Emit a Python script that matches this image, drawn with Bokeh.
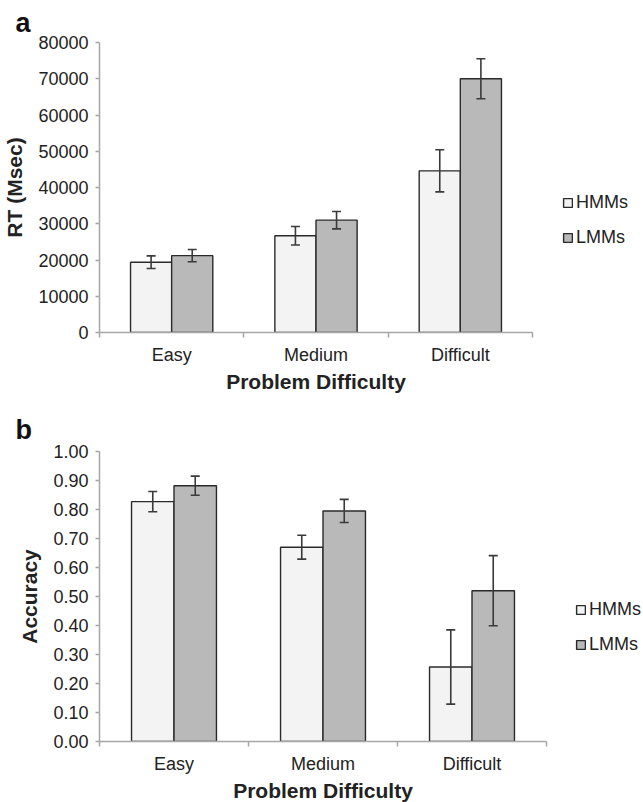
from bokeh.plotting import figure
from bokeh.models import (ColumnDataSource, Range1d, FixedTicker, NumeralTickFormatter,
                          Whisker, TeeHead, Legend, LegendItem)
from bokeh.layouts import column
from bokeh.embed import file_html
from bokeh.resources import INLINE

# ---------------- data ----------------
categories = ["Easy", "Medium", "Difficult"]
series = ["HMMs", "LMMs"]

rt_hmm = [19400, 26700, 44600]
rt_hmm_err = [1750, 2550, 5800]
rt_lmm = [21200, 31000, 70000]
rt_lmm_err = [1700, 2400, 5500]

acc_hmm = [0.827, 0.670, 0.257]
acc_hmm_err = [0.035, 0.041, 0.128]
acc_lmm = [0.882, 0.795, 0.520]
acc_lmm_err = [0.033, 0.040, 0.121]

rt_ticks = [0, 10000, 20000, 30000, 40000, 50000, 60000, 70000, 80000]
acc_ticks = [0.0, 0.1, 0.2, 0.3, 0.4, 0.5, 0.6, 0.7, 0.8, 0.9, 1.0]

# ---------------- style ----------------
FONT = "Liberation Sans"
TXT = "#222222"
AXC = "#a6a6a6"
FILLS = ["#f3f3f3", "#b9b9b9"]
BAR_W = 0.285


def make_panel(letter, ylabel, hmm, hmm_err, lmm, lmm_err, ticks, fmt,
               frame_w, b_top, b_bottom, b_right, leg_loc, title_standoff):
    p = figure(output_backend="svg", toolbar_location=None,
               frame_width=frame_w, frame_height=290,
               min_border_left=99, min_border_right=b_right,
               min_border_top=b_top, min_border_bottom=b_bottom,
               x_range=Range1d(0, len(categories)),
               y_range=Range1d(ticks[0], ticks[-1]))
    p.outline_line_color = None
    p.grid.grid_line_color = None
    p.background_fill_color = "white"

    p.title.text = letter
    p.title.align = "left"
    p.title.offset = -84
    p.title.standoff = title_standoff
    p.title.text_font = FONT
    p.title.text_font_size = "27px"
    p.title.text_font_style = "bold"
    p.title.text_color = "#111111"

    centers = [i + 0.5 for i in range(len(categories))]
    renderers = []
    for k, (vals, errs) in enumerate([(hmm, hmm_err), (lmm, lmm_err)]):
        xs = [c + (k - 0.5) * BAR_W for c in centers]
        src = ColumnDataSource(dict(
            x=xs, top=vals,
            upper=[v + e for v, e in zip(vals, errs)],
            lower=[v - e for v, e in zip(vals, errs)]))
        r = p.vbar(x="x", top="top", bottom=0, width=BAR_W, source=src,
                   fill_color=FILLS[k], line_color="#2a2a2a", line_width=1.4)
        renderers.append(r)
        w = Whisker(base="x", upper="upper", lower="lower", source=src,
                    line_color="#3a3a3a", line_width=1.6, level="overlay",
                    upper_head=TeeHead(size=9, line_color="#3a3a3a", line_width=1.6),
                    lower_head=TeeHead(size=9, line_color="#3a3a3a", line_width=1.6))
        p.add_layout(w)

    # x axis: labels at centers, tick marks at boundaries
    xa = p.xaxis[0]
    xa.ticker = FixedTicker(ticks=centers,
                            minor_ticks=list(range(len(categories) + 1)))
    xa.major_label_overrides = {c: cat for c, cat in zip(centers, categories)}
    xa.major_tick_out = 0
    xa.major_tick_in = 0
    xa.minor_tick_out = 5
    xa.minor_tick_in = 0
    xa.minor_tick_line_color = AXC
    xa.minor_tick_line_width = 1.5
    xa.axis_line_color = AXC
    xa.axis_line_width = 1.5
    xa.major_label_text_font = FONT
    xa.major_label_text_font_size = "18px"
    xa.major_label_text_color = TXT
    xa.major_label_standoff = 7
    xa.axis_label = "Problem Difficulty"
    xa.axis_label_text_font = FONT
    xa.axis_label_text_font_size = "21px"
    xa.axis_label_text_font_style = "bold"
    xa.axis_label_text_color = TXT
    xa.axis_label_standoff = 2

    ya = p.yaxis[0]
    ya.ticker = FixedTicker(ticks=ticks, minor_ticks=[])
    ya.formatter = NumeralTickFormatter(format=fmt)
    ya.major_tick_out = 4
    ya.major_tick_in = 0
    ya.major_tick_line_color = AXC
    ya.major_tick_line_width = 1.5
    ya.axis_line_color = AXC
    ya.axis_line_width = 1.5
    ya.major_label_text_font = FONT
    ya.major_label_text_font_size = "18px"
    ya.major_label_text_color = TXT
    ya.major_label_standoff = 7
    ya.axis_label = ylabel
    ya.axis_label_text_font = FONT
    ya.axis_label_text_font_size = "21px"
    ya.axis_label_text_font_style = "bold"
    ya.axis_label_text_color = TXT
    ya.axis_label_standoff = 9

    legend = Legend(items=[LegendItem(label=s, renderers=[r]) for s, r in zip(series, renderers)],
                    location=leg_loc, orientation="vertical",
                    glyph_width=11, glyph_height=11, label_standoff=3,
                    label_text_font=FONT, label_text_font_size="18px",
                    label_text_color=TXT, label_height=20, spacing=14,
                    padding=0, margin=0, border_line_alpha=0,
                    background_fill_alpha=0)
    p.add_layout(legend, "right")
    return p


pa = make_panel("a", "RT (Msec)", rt_hmm, rt_hmm_err, rt_lmm, rt_lmm_err,
                rt_ticks, "0", 433, 42, 68, 111, (30, 84), 10)
pb = make_panel("b", "Accuracy", acc_hmm, acc_hmm_err, acc_lmm, acc_lmm_err,
                acc_ticks, "0.00", 447, 51, 61, 97, (29, 86), 14)

layout = column(pa, pb, spacing=0)
open("out.html", "w").write(file_html(layout, INLINE))
